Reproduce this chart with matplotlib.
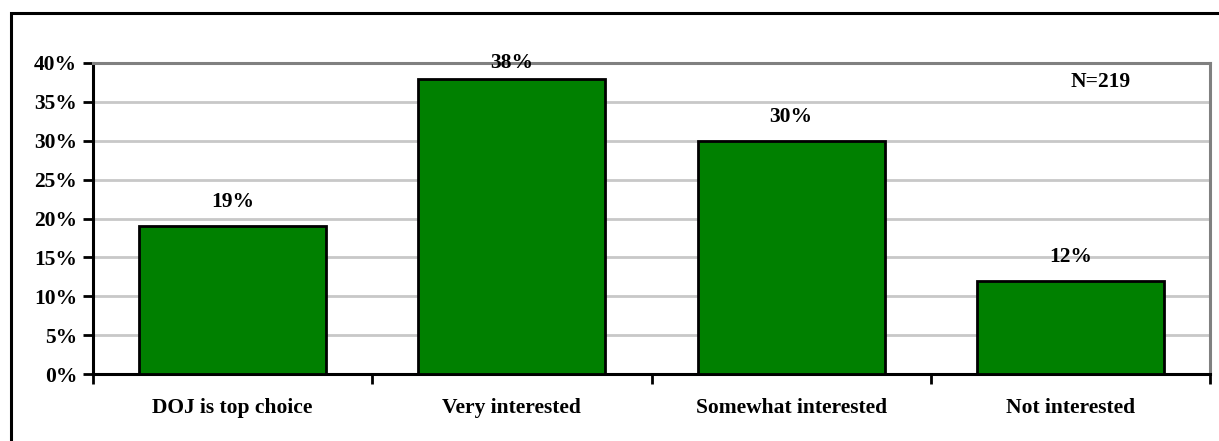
import matplotlib
matplotlib.use("Agg")
import matplotlib.pyplot as plt
from matplotlib.patches import Rectangle
from matplotlib.ticker import MultipleLocator, FuncFormatter

categories = ["DOJ is top choice", "Very interested", "Somewhat interested", "Not interested"]
values = [19, 38, 30, 12]
sample_note = "N=219"

plt.rcParams["font.family"] = ["Liberation Serif", "DejaVu Serif"]
plt.rcParams["font.weight"] = "bold"

W, H = 1219, 441
FS = 15.5
fig = plt.figure(figsize=(W / 100, H / 100), dpi=100)
fig.patch.set_facecolor("white")

# outer chart frame (only the top and left edges fall inside the canvas)
fig.patches.append(Rectangle((11 / W, -0.2), 1.5, 1.2 - 13 / H, transform=fig.transFigure,
                             fill=False, edgecolor="black", linewidth=2.2, zorder=0))

ax = fig.add_axes([93 / W, 1 - 374 / H, (1210 - 93) / W, (374 - 63) / H])
ax.set_facecolor("white")

x = list(range(len(categories)))
ax.bar(x, values, width=0.67, color="#008000", edgecolor="black", linewidth=2, zorder=3)

ax.set_xlim(-0.5, len(categories) - 0.5)
ax.set_ylim(0, 40)
ax.yaxis.set_major_locator(MultipleLocator(5))
ax.yaxis.set_major_formatter(FuncFormatter(lambda v, p: f"{v:.0f}%"))
ax.grid(axis="y", color="#c8c8c8", linewidth=2, zorder=1)
ax.set_axisbelow(True)

# category labels centred under bars, tick marks at category boundaries
ax.set_xticks(x)
ax.set_xticklabels(categories, fontsize=FS, fontweight="bold")
ax.tick_params(axis="x", length=0, pad=17.5)
ax.set_xticks([i - 0.5 for i in range(len(categories) + 1)], minor=True)
ax.tick_params(axis="x", which="minor", length=7, width=2, direction="out", color="black")
ax.tick_params(axis="y", length=7, width=2, direction="out", labelsize=FS, pad=4.5, color="black")
for lbl in ax.get_yticklabels():
    lbl.set_fontweight("bold")

for side in ("left", "bottom"):
    ax.spines[side].set_color("black")
    ax.spines[side].set_linewidth(2.2)
for side in ("top", "right"):
    ax.spines[side].set_color("#808080")
    ax.spines[side].set_linewidth(2.2)

for xi, v in zip(x, values):
    ax.text(xi, min(v + 3.1, 40.0), f"{v}%", ha="center", va="center",
            fontsize=FS, fontweight="bold", zorder=5)

ax.text(0.902, 0.94, sample_note, transform=ax.transAxes, ha="center", va="center",
        fontsize=FS, fontweight="bold")

fig.savefig("out.png", dpi=100)
